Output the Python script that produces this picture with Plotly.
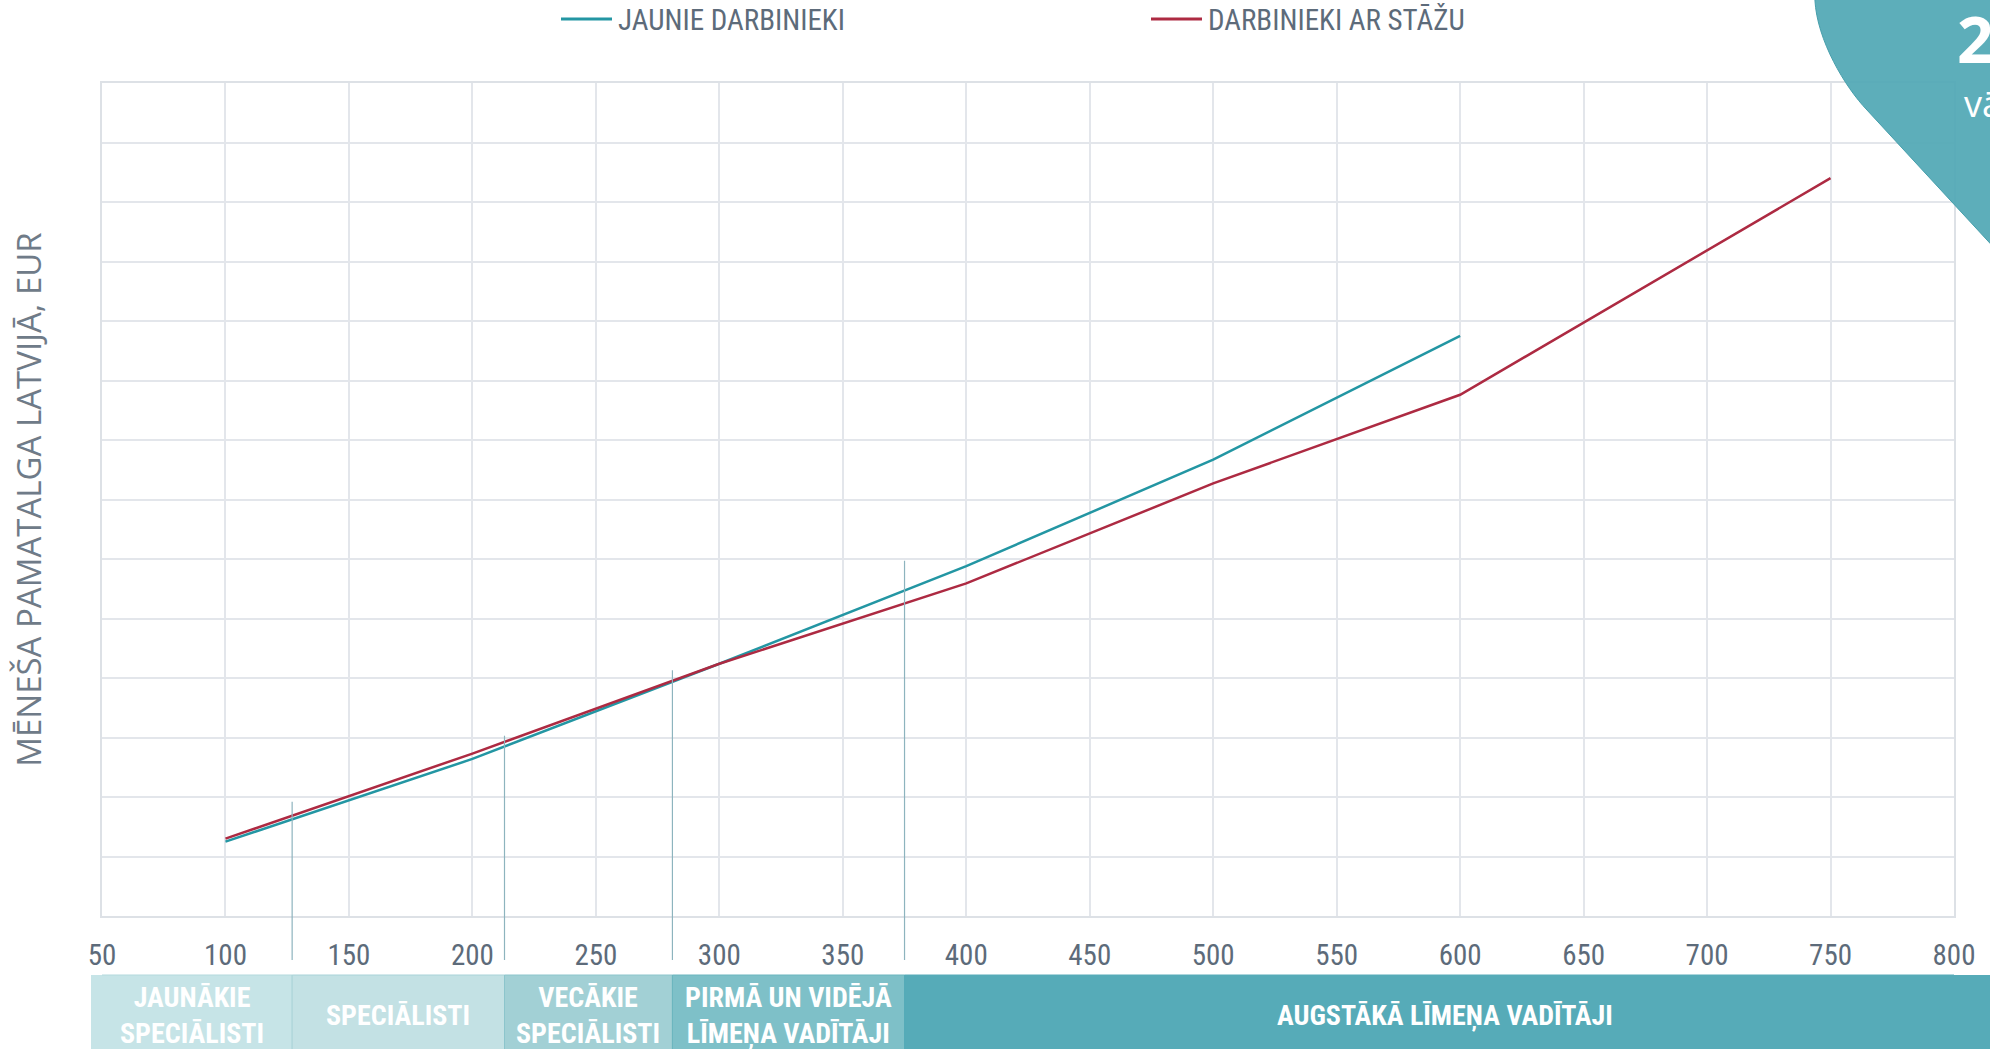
import plotly.graph_objects as go

# ---------------- data ----------------
x_jaunie = [100, 200, 300, 400, 500, 600]
y_jaunie = [625, 1320, 2120, 2940, 3835, 4875]

x_stazs = [100, 200, 300, 400, 500, 600, 750]
y_stazs = [650, 1365, 2120, 2795, 3635, 4380, 6200]

series_names = ["JAUNIE DARBINIEKI", "DARBINIEKI AR STĀŽU"]

x_ticks = [50, 100, 150, 200, 250, 300, 350, 400, 450, 500, 550, 600, 650, 700, 750, 800]

# category bands (boundaries on the x scale) and their labels
band_edges = [45.5, 127, 213, 281, 375, 813]
band_labels = ["JAUNĀKIE<br>SPECIĀLISTI", "SPECIĀLISTI", "VECĀKIE<br>SPECIĀLISTI",
               "PIRMĀ UN VIDĒJĀ<br>LĪMEŅA VADĪTĀJI", "AUGSTĀKĀ LĪMEŅA VADĪTĀJI"]
# heights of the boundary marker lines
marker_tops = [960, 1515, 2065, 2985]

# ---------------- style ----------------
TEAL = "#2396a3"
RED = "#ad2a42"
GRID = "#e3e6eb"
TXT = "#5d6b7a"
band_fill = ["#c6e4e7", "#c3e1e4", "#a2d0d5", "#7ec0c8", "#56abb8"]
band_line = ["#b3d9dd", "#a9d3d8", "#8cc5cc", "#6ab5be", "#56abb8"]
NARROW = "Liberation Sans Narrow, Roboto Condensed, Roboto, sans-serif"

W, H = 1990, 1049
L, R, T, B = 102, 36, 83, 133
PW, PH = W - L - R, H - T - B


def px(xp):
    return (xp - L) / PW


def py(yp):
    return (H - B - yp) / PH


fig = go.Figure()
fig.add_trace(go.Scatter(x=x_jaunie, y=y_jaunie, mode="lines", name=series_names[0],
                         line=dict(color=TEAL, width=2.5)))
fig.add_trace(go.Scatter(x=x_stazs, y=y_stazs, mode="lines", name=series_names[1],
                         line=dict(color=RED, width=2.5)))

shapes = []
annotations = []

# legend drawn at the top (line sample + label)
legend_x = [561, 1151]
for name, col, lx in zip(series_names, [TEAL, RED], legend_x):
    shapes.append(dict(type="line", xref="paper", yref="paper", x0=px(lx), x1=px(lx + 51),
                       y0=py(19), y1=py(19), line=dict(color=col, width=3)))
    annotations.append(dict(x=px(lx + 55), y=py(20), xref="paper", yref="paper", text=name,
                            showarrow=False, xanchor="left", yanchor="middle",
                            font=dict(family=NARROW, size=29, color=TXT)))

# bands below the axis
band_y0, band_y1 = py(975), py(1060)
for i, lab in enumerate(band_labels):
    x0, x1 = band_edges[i], band_edges[i + 1]
    shapes.append(dict(type="rect", xref="x", yref="paper", x0=x0, x1=x1, y0=band_y0, y1=band_y1,
                       fillcolor=band_fill[i], line=dict(color=band_line[i], width=1), layer="above"))
    annotations.append(dict(x=(x0 + x1) / 2, y=py(1015), xref="x", yref="paper", text=lab,
                            showarrow=False, xanchor="center", yanchor="middle", align="center",
                            font=dict(family=NARROW, size=28, color="white", weight="bold")))
# slivers of the outer bands that run past the plot edges
shapes.append(dict(type="rect", xref="paper", yref="paper", x0=px(91), x1=0, y0=band_y0, y1=band_y1,
                   fillcolor=band_fill[0], line=dict(width=0), layer="above"))
shapes.append(dict(type="rect", xref="paper", yref="paper", x0=1, x1=px(1990), y0=band_y0, y1=band_y1,
                   fillcolor=band_fill[-1], line=dict(width=0), layer="above"))

# boundary marker lines
for xb, top in zip(band_edges[1:-1], marker_tops):
    shapes.append(dict(type="line", xref="x", yref="y", x0=xb, x1=xb, y0=0, y1=top,
                       line=dict(color="#8db4be", width=1.2), layer="above"))
    shapes.append(dict(type="line", xref="x", yref="paper", x0=xb, x1=xb, y0=0, y1=py(960),
                       line=dict(color="#8db4be", width=1.2), layer="above"))

# decorative corner shape
path = ("M {:.4f},{:.4f} L {:.4f},{:.4f} C {:.4f},{:.4f} {:.4f},{:.4f} {:.4f},{:.4f} "
        "L {:.4f},{:.4f} L {:.4f},{:.4f} Z").format(
    px(1815), py(-10), px(1815), py(0),
    px(1817), py(40), px(1845), py(87), px(1867), py(110),
    px(2000), py(254), px(2000), py(-10))
shapes.append(dict(type="path", xref="paper", yref="paper", path=path,
                   fillcolor="#55aab7", opacity=0.95, line=dict(color="#3d9aa7", width=1),
                   layer="above"))
annotations.append(dict(x=px(1955), y=py(38), xref="paper", yref="paper", text="2",
                        showarrow=False, xanchor="left", yanchor="middle",
                        font=dict(family="Open Sans, sans-serif", size=64, color="white", weight="bold")))
annotations.append(dict(x=px(1962), y=py(103), xref="paper", yref="paper", text="vā",
                        showarrow=False, xanchor="left", yanchor="middle",
                        font=dict(family="Open Sans, sans-serif", size=36, color="white")))

fig.update_layout(
    width=W, height=H,
    margin=dict(l=L, r=R, t=T, b=B, autoexpand=False),
    paper_bgcolor="white", plot_bgcolor="white",
    showlegend=False,
    xaxis=dict(range=[50, 800], tickvals=x_ticks, ticktext=[str(v) for v in x_ticks],
               showgrid=True, gridcolor=GRID, gridwidth=1.5,
               showline=True, linecolor="#dde1e6", linewidth=2, mirror=True,
               zeroline=False, ticks="", ticklabelstandoff=12,
               tickfont=dict(family=NARROW, size=29, color=TXT)),
    yaxis=dict(range=[0, 7000], dtick=500, showticklabels=False,
               showgrid=True, gridcolor=GRID, gridwidth=1.5,
               showline=True, linecolor="#dde1e6", linewidth=2, mirror=True,
               zeroline=False, ticks="",
               title=dict(text="MĒNEŠA PAMATALGA LATVIJĀ, EUR", standoff=48,
                          font=dict(family="Open Sans, Noto Sans, sans-serif", size=33,
                                    color="#6f7b88"))),
    shapes=shapes, annotations=annotations,
)

fig.write_html("out.html", config={"displayModeBar": False},
               post_script="document.body.style.margin='0';")
